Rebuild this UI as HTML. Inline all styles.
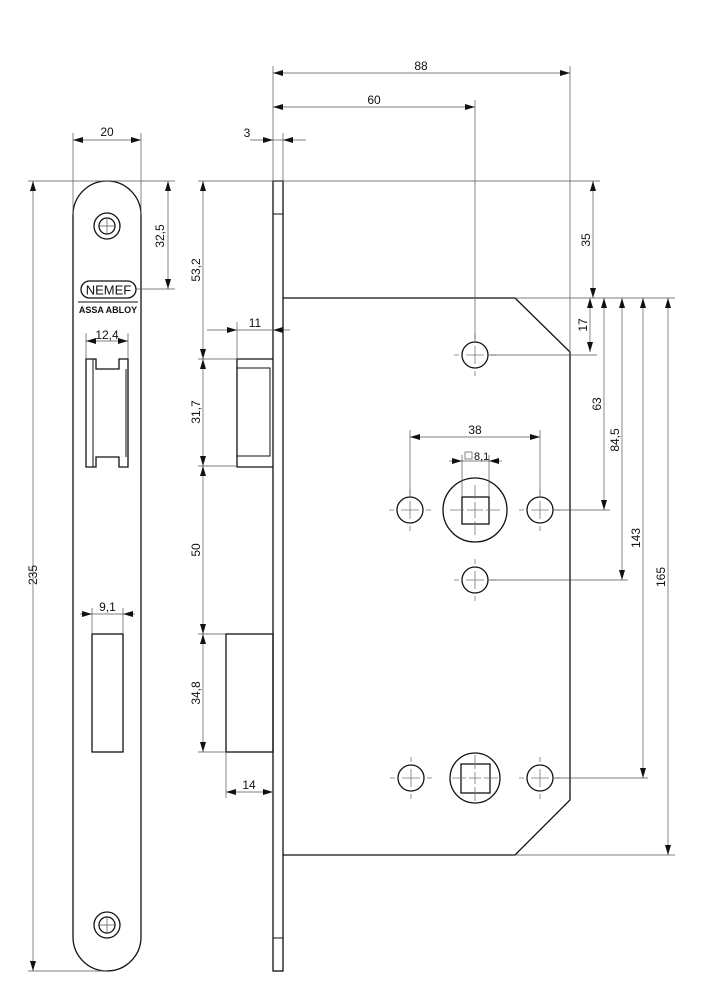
<!DOCTYPE html>
<html><head><meta charset="utf-8"><style>
html,body{margin:0;padding:0;background:#fff}
svg{display:block}
text{font-family:"Liberation Sans",sans-serif;font-size:12px;fill:#111}
.o{stroke:#111;stroke-width:1.3;fill:none}
.d{stroke:#555;stroke-width:0.7;fill:none}
.c{stroke:#777;stroke-width:0.8;fill:none}
</style></head><body>
<svg width="707" height="1000" viewBox="0 0 707 1000" xmlns="http://www.w3.org/2000/svg">
<defs>
<marker id="a" markerWidth="10" markerHeight="6" refX="10" refY="3" orient="auto" markerUnits="userSpaceOnUse"><path d="M0,0 L10,3 L0,6 Z" fill="#111"/></marker>
<marker id="b" markerWidth="10" markerHeight="6" refX="0" refY="3" orient="auto" markerUnits="userSpaceOnUse"><path d="M10,0 L0,3 L10,6 Z" fill="#111"/></marker>
<g id="h">
<circle class="o" cx="0" cy="0" r="13"/>
<path class="c" d="M-9,0H9M0,-9V9M-21,0H-16M16,0H21M0,-21V-16M0,16V21"/>
</g>
</defs>

<!-- FRONT FACEPLATE -->
<path class="o" d="M73,215 A34,34 0 0 1 141,215 V937 A34,34 0 0 1 73,937 Z"/>
<circle class="o" cx="107" cy="226" r="13"/><circle class="o" cx="107" cy="226" r="8"/>
<path class="d" d="M99,226H115M107,218V234"/>
<circle class="o" cx="107" cy="925" r="13"/><circle class="o" cx="107" cy="925" r="8"/>
<path class="d" d="M99,925H115M107,917V933"/>
<rect x="81" y="281" width="55" height="17" rx="8.5" class="o"/>
<text x="108.5" y="294.5" text-anchor="middle" style="font-size:13px">NEMEF</text>
<path class="o" d="M78,302 H138" style="stroke-width:1"/>
<text x="108" y="313" text-anchor="middle" style="font-size:9px;font-weight:bold">ASSA ABLOY</text>
<path class="o" d="M86,359 H96 V369 H119 V359 H128 V467 H119 V457 H96 V467 H86 Z"/>
<path class="o" d="M93,359V467M126,369V457" style="stroke-width:1"/>
<rect x="92" y="634" width="31" height="118" class="o"/>

<!-- front dims -->
<path class="d" d="M73,215V133M141,215V133"/>
<path class="d" d="M73,140H141" marker-start="url(#b)" marker-end="url(#a)"/>
<text x="107" y="136" text-anchor="middle">20</text>
<path class="d" d="M28,181H107M28,971H107"/>
<path class="d" d="M33,181V971" marker-start="url(#b)" marker-end="url(#a)"/>
<text transform="translate(37,575) rotate(-90)" text-anchor="middle">235</text>
<path class="d" d="M107,181H175M136,289H175"/>
<path class="d" d="M168,181V289" marker-start="url(#b)" marker-end="url(#a)"/>
<text transform="translate(164,236) rotate(-90)" text-anchor="middle">32,5</text>
<path class="d" d="M86,359V333M128,359V333"/>
<path class="d" d="M86,341H128" marker-start="url(#b)" marker-end="url(#a)"/>
<text x="107" y="339" text-anchor="middle">12,4</text>
<path class="d" d="M92,634V608M123,634V608"/>
<path class="d" d="M80,614H92" marker-end="url(#a)"/><path class="d" d="M135,614H123" marker-end="url(#a)"/>
<path class="d" d="M92,614H123"/>
<text x="107.5" y="611" text-anchor="middle">9,1</text>

<!-- SIDE VIEW -->
<rect x="273" y="181" width="10" height="790" class="o"/>
<path class="o" d="M273,214H283M273,938H283" style="stroke-width:1"/>
<path class="o" d="M283,298 H515 L570,352 V800 L515,855 H283"/>
<path class="o" d="M273,359 H237 V467 H273"/>
<path class="o" d="M237,368 H270 V456 H237" style="stroke-width:1"/>
<rect x="226" y="634" width="47" height="118" class="o"/>

<!-- holes -->
<use href="#h" x="475" y="355"/>
<use href="#h" x="410" y="510"/>
<use href="#h" x="540" y="510"/>
<use href="#h" x="475" y="580"/>
<use href="#h" x="411" y="778"/>
<use href="#h" x="540" y="778"/>
<circle class="o" cx="475" cy="510" r="32"/>
<rect x="462" y="497" width="27" height="27" class="o"/>
<path class="c" d="M450,510H464M467,510H483M486,510H500M475,485V499M475,502V518M475,521V535"/>
<circle class="o" cx="475" cy="778" r="25"/>
<rect x="461" y="764" width="29" height="29" class="o"/>
<path class="c" d="M452,778H466M469,778H481M484,778H498M475,755V769M475,772V784M475,787V801"/>

<!-- side dims -->
<path class="d" d="M273,181V66M570,352V66M475,342V100M283,181V133"/>
<path class="d" d="M273,73H570" marker-start="url(#b)" marker-end="url(#a)"/>
<text x="421" y="70" text-anchor="middle">88</text>
<path class="d" d="M273,107H475" marker-start="url(#b)" marker-end="url(#a)"/>
<text x="374" y="104" text-anchor="middle">60</text>
<path class="d" d="M250,140H273" marker-end="url(#a)"/><path class="d" d="M306,140H283" marker-end="url(#a)"/>
<path class="d" d="M273,140H283"/>
<text x="247" y="137" text-anchor="middle">3</text>

<path class="d" d="M198,181H600M198,359H237M198,466H237M198,634H226M198,752H226"/>
<path class="d" d="M203,181V359" marker-start="url(#b)" marker-end="url(#a)"/>
<text transform="translate(200,270) rotate(-90)" text-anchor="middle">53,2</text>
<path class="d" d="M203,359V466" marker-start="url(#b)" marker-end="url(#a)"/>
<text transform="translate(200,412) rotate(-90)" text-anchor="middle">31,7</text>
<path class="d" d="M203,466V634" marker-start="url(#b)" marker-end="url(#a)"/>
<text transform="translate(200,550) rotate(-90)" text-anchor="middle">50</text>
<path class="d" d="M203,634V752" marker-start="url(#b)" marker-end="url(#a)"/>
<text transform="translate(200,693) rotate(-90)" text-anchor="middle">34,8</text>

<path class="d" d="M237,359V322"/>
<path class="d" d="M207,330H237" marker-end="url(#a)"/><path class="d" d="M290,330H273" marker-end="url(#a)"/>
<path class="d" d="M237,330H273"/>
<text x="255" y="327" text-anchor="middle">11</text>
<path class="d" d="M226,752V798"/>
<path class="d" d="M226,792H273" marker-start="url(#b)" marker-end="url(#a)"/>
<text x="249" y="789" text-anchor="middle">14</text>

<path class="d" d="M410,497V430M540,497V430"/>
<path class="d" d="M410,437H540" marker-start="url(#b)" marker-end="url(#a)"/>
<text x="475" y="434" text-anchor="middle">38</text>
<path class="d" d="M462,497V455M489,497V455"/>
<path class="d" d="M449,461H462" marker-end="url(#a)"/><path class="d" d="M502,461H489" marker-end="url(#a)"/>
<path class="d" d="M462,461H489"/>
<rect x="465" y="452" width="7" height="7" class="d"/>
<text x="474" y="460" style="font-size:11px">8,1</text>

<path class="d" d="M515,298H675M488,355H597M553,510H610M488,580H628M553,778H648M515,855H675"/>
<path class="d" d="M593,181V298" marker-start="url(#b)" marker-end="url(#a)"/>
<text transform="translate(590,240) rotate(-90)" text-anchor="middle">35</text>
<path class="d" d="M590,298V352" marker-start="url(#b)" marker-end="url(#a)"/>
<text transform="translate(587,325) rotate(-90)" text-anchor="middle">17</text>
<path class="d" d="M604,298V510" marker-start="url(#b)" marker-end="url(#a)"/>
<text transform="translate(601,404) rotate(-90)" text-anchor="middle">63</text>
<path class="d" d="M622,298V580" marker-start="url(#b)" marker-end="url(#a)"/>
<text transform="translate(619,440) rotate(-90)" text-anchor="middle">84,5</text>
<path class="d" d="M643,298V778" marker-start="url(#b)" marker-end="url(#a)"/>
<text transform="translate(640,538) rotate(-90)" text-anchor="middle">143</text>
<path class="d" d="M668,298V855" marker-start="url(#b)" marker-end="url(#a)"/>
<text transform="translate(665,577) rotate(-90)" text-anchor="middle">165</text>
</svg>
</body></html>
